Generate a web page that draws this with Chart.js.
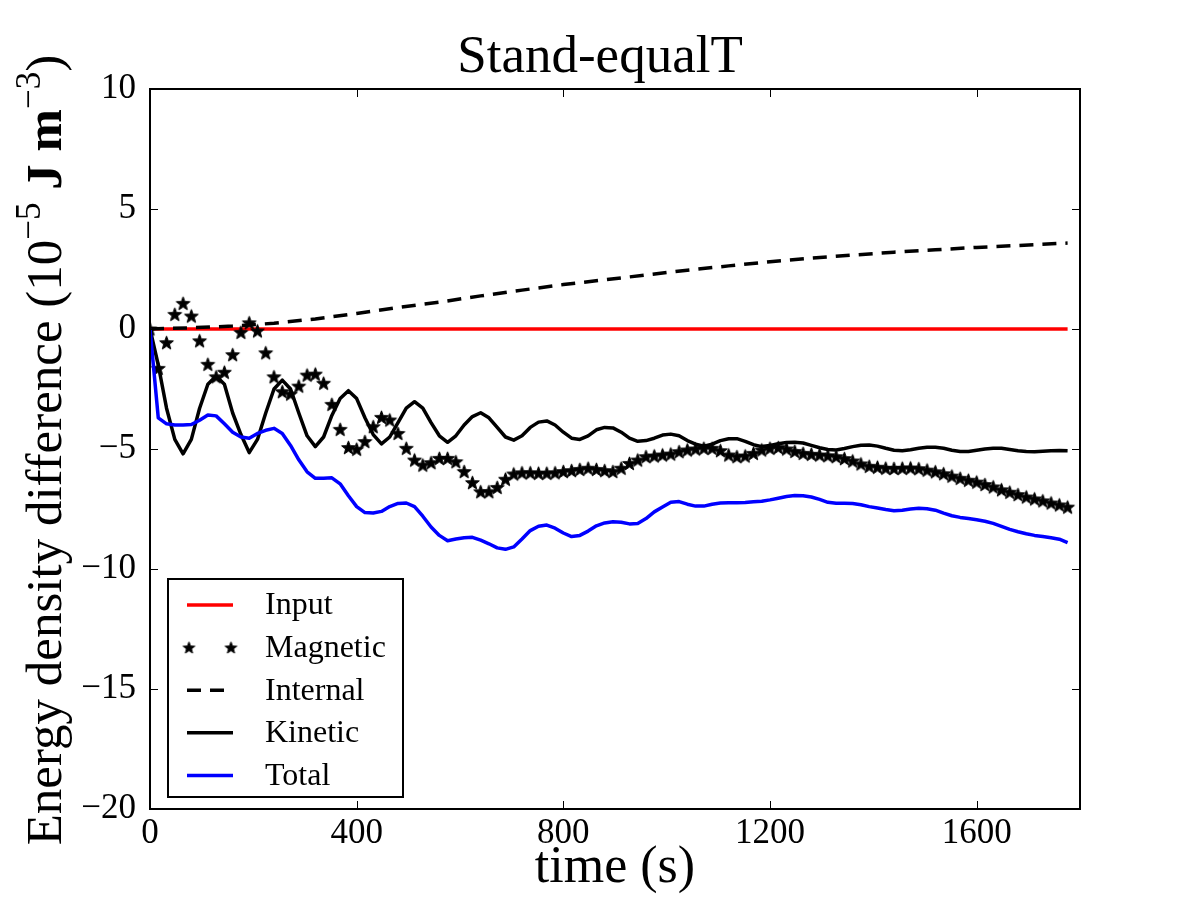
<!DOCTYPE html>
<html>
<head>
<meta charset="utf-8">
<script src="https://cdn.jsdelivr.net/npm/chart.js@4.4.1/dist/chart.umd.min.js"></script>
<style>
html,body{margin:0;padding:0;background:#fff;}
#wrap{width:1200px;height:900px;}
</style>
</head>
<body>
<div id="wrap"><canvas id="c" width="1200" height="900"></canvas></div>
<script>
// ---------------- DATA ----------------
const titleText = 'Stand-equalT';
const xTitleText = 'time (s)';
const yTitleParts = ['Energy density difference (10', '\u22125', ' J m', '\u22123', ')'];
const seriesNames = ['Input', 'Magnetic', 'Internal', 'Kinetic', 'Total'];

const xTicks = [0, 400, 800, 1200, 1600];
const yTicks = [-20, -15, -10, -5, 0, 5, 10];

const time = [0,16,32,48,64,80,96,112,128,144,160,176,192,208,224,240,256,272,288,304,320,336,352,368,384,400,416,432,448,464,480,496,512,528,544,560,576,592,608,624,640,656,672,688,704,720,736,752,768,784,800,816,832,848,864,880,896,912,928,944,960,976,992,1008,1024,1040,1056,1072,1088,1104,1120,1136,1152,1168,1184,1200,1216,1232,1248,1264,1280,1296,1312,1328,1344,1360,1376,1392,1408,1424,1440,1456,1472,1488,1504,1520,1536,1552,1568,1584,1600,1616,1632,1648,1664,1680,1696,1712,1728,1744,1760,1776];

const inputTime = [0, 1776];
const inputValues = [0, 0];

const magnetic = [0, -1.64, -0.57, 0.61, 1.07, 0.54, -0.49, -1.47, -1.99, -1.8,
 -1.07, -0.14, 0.26, -0.08, -0.99, -1.99, -2.61, -2.71, -2.38, -1.92,
 -1.88, -2.26, -3.14, -4.18, -4.94, -5.01, -4.69, -4.07, -3.68, -3.79,
 -4.35, -4.97, -5.46, -5.67, -5.57, -5.39, -5.39, -5.53, -5.94, -6.4,
 -6.78, -6.78, -6.6, -6.26, -6.04, -5.99, -5.99, -6.01, -6.01, -5.99,
 -5.94, -5.9, -5.85, -5.8, -5.85, -5.9, -5.94, -5.8, -5.6, -5.46,
 -5.32, -5.29, -5.25, -5.21, -5.11, -5.04, -5.0, -4.97, -4.97, -5.07,
 -5.25, -5.32, -5.29, -5.18, -5.04, -4.97, -4.94, -5.0, -5.1, -5.18,
 -5.22, -5.25, -5.28, -5.32, -5.4, -5.5, -5.62, -5.72, -5.76, -5.8,
 -5.81, -5.8, -5.79, -5.82, -5.88, -5.95, -6.03, -6.13, -6.22, -6.3,
 -6.38, -6.48, -6.58, -6.7, -6.8, -6.9, -7.0, -7.08, -7.16, -7.25,
 -7.33, -7.42];

const internalTime = [0, 80, 160, 240, 320, 400, 480, 560, 640, 720, 800, 880, 960, 1040, 1120, 1200, 1280, 1360, 1440, 1520, 1600, 1680, 1776];
const internal = [0, 0.05, 0.12, 0.24, 0.42, 0.65, 0.9, 1.12, 1.38, 1.62, 1.85, 2.05, 2.25, 2.45, 2.63, 2.8, 2.95, 3.08, 3.2, 3.3, 3.4, 3.48, 3.58];

const kinetic = [0, -1.5, -3.3, -4.6, -5.2, -4.6, -3.3, -2.3, -1.96, -2.3,
 -3.5, -4.4, -5.15, -4.6, -3.5, -2.5, -2.13, -2.5, -3.5, -4.45,
 -4.9, -4.5, -3.6, -2.9, -2.57, -2.9, -3.7, -4.4, -4.79, -4.5,
 -3.9, -3.3, -3.03, -3.3, -3.9, -4.45, -4.72, -4.45, -4.0, -3.65,
 -3.49, -3.7, -4.1, -4.5, -4.63, -4.45, -4.1, -3.88, -3.83, -4.0,
 -4.3, -4.55, -4.6, -4.45, -4.2, -4.1, -4.12, -4.3, -4.55, -4.68,
 -4.65, -4.55, -4.42, -4.38, -4.45, -4.65, -4.8, -4.88, -4.8, -4.65,
 -4.57, -4.57, -4.68, -4.82, -4.9, -4.85, -4.78, -4.73, -4.72, -4.75,
 -4.85, -4.95, -5.02, -5.04, -4.98, -4.9, -4.84, -4.83, -4.88, -4.97,
 -5.05, -5.07, -5.03, -4.97, -4.93, -4.93, -4.97, -5.05, -5.1, -5.1,
 -5.05, -5.0, -4.97, -4.97, -5.02, -5.07, -5.1, -5.11, -5.09, -5.07,
 -5.06, -5.07];

const total = [0, -3.7, -3.95, -4.0, -4.0, -3.98, -3.8, -3.58, -3.62, -3.95,
 -4.3, -4.5, -4.55, -4.35, -4.22, -4.14, -4.35, -4.85, -5.45, -5.95,
 -6.22, -6.22, -6.2, -6.45, -6.95, -7.4, -7.65, -7.67, -7.6, -7.4,
 -7.27, -7.25, -7.4, -7.8, -8.25, -8.6, -8.82, -8.75, -8.7, -8.68,
 -8.8, -8.95, -9.12, -9.18, -9.08, -8.75, -8.4, -8.22, -8.17, -8.3,
 -8.5, -8.65, -8.6, -8.42, -8.2, -8.08, -8.03, -8.05, -8.12, -8.1,
 -7.9, -7.62, -7.42, -7.22, -7.19, -7.3, -7.38, -7.38, -7.3, -7.25,
 -7.24, -7.24, -7.23, -7.2, -7.18, -7.12, -7.05, -6.98, -6.94, -6.95,
 -7.0, -7.1, -7.22, -7.26, -7.26, -7.27, -7.32, -7.4, -7.46, -7.52,
 -7.57, -7.55, -7.5, -7.47, -7.49, -7.55, -7.67, -7.78, -7.85, -7.9,
 -7.95, -8.01, -8.1, -8.22, -8.35, -8.45, -8.53, -8.6, -8.65, -8.7,
 -8.76, -8.9];

// ---------------- STYLE / RENDER ----------------
const FONT = '"Liberation Serif", "Times New Roman", serif';
Chart.defaults.color = '#000';

function makeStar(r) {
  const s = Math.ceil(r * 2 + 4);
  const c = document.createElement('canvas');
  c.width = s; c.height = s;
  const g = c.getContext('2d');
  g.translate(s / 2, s / 2 + r * 0.08);
  g.beginPath();
  for (let i = 0; i < 10; i++) {
    const rr = i % 2 === 0 ? r : r * 0.42;
    const a = -Math.PI / 2 + i * Math.PI / 5;
    g.lineTo(rr * Math.cos(a), rr * Math.sin(a));
  }
  g.closePath();
  g.fillStyle = '#000';
  g.fill();
  g.lineWidth = 1;
  g.strokeStyle = '#000';
  g.lineJoin = 'miter';
  g.stroke();
  return c;
}
const starImg = makeStar(7.2);
const legendStar = makeStar(6.2);

const fmt = v => (v < 0 ? '\u2212' + Math.abs(v) : String(v));
const toXY = (xs, ys) => xs.map((x, i) => ({ x: x, y: ys[i] }));

const framePlugin = {
  id: 'frame',
  afterDatasetsDraw(chart) {
    const { ctx, chartArea: a, scales } = chart;
    ctx.save();
    ctx.strokeStyle = '#000';
    ctx.lineWidth = 1;
    const tl = 8;
    xTicks.forEach(v => {
      const px = Math.round(scales.x.getPixelForValue(v)) + 0.5;
      ctx.beginPath();
      ctx.moveTo(px, a.bottom); ctx.lineTo(px, a.bottom - tl);
      ctx.moveTo(px, a.top); ctx.lineTo(px, a.top + tl);
      ctx.stroke();
    });
    yTicks.forEach(v => {
      const py = Math.round(scales.y.getPixelForValue(v)) + 0.5;
      ctx.beginPath();
      ctx.moveTo(a.left, py); ctx.lineTo(a.left + tl, py);
      ctx.moveTo(a.right, py); ctx.lineTo(a.right - tl, py);
      ctx.stroke();
    });
    ctx.lineWidth = 2;
    ctx.strokeRect(a.left, a.top, a.right - a.left, a.bottom - a.top);
    ctx.restore();
  }
};

const textPlugin = {
  id: 'texts',
  afterDraw(chart) {
    const ctx = chart.ctx;
    const a = chart.chartArea;
    ctx.save();
    ctx.fillStyle = '#000';
    ctx.textBaseline = 'alphabetic';
    ctx.textAlign = 'center';
    ctx.font = '53px ' + FONT;
    ctx.fillText(titleText, 600, 72);
    ctx.font = '52px ' + FONT;
    ctx.fillText(xTitleText, (a.left + a.right) / 2, 882);

    // y axis title with superscripts
    const fonts = ['51px ' + FONT, '35px ' + FONT, 'bold 51px ' + FONT, '35px ' + FONT, '51px ' + FONT];
    const dys = [0, -21, 0, -21, 0];
    let totalW = 0;
    const widths = yTitleParts.map((t, i) => { ctx.font = fonts[i]; const w = ctx.measureText(t).width; totalW += w; return w; });
    ctx.translate(61, 450);
    ctx.rotate(-Math.PI / 2);
    ctx.textAlign = 'left';
    let x = -totalW / 2;
    yTitleParts.forEach((t, i) => {
      ctx.font = fonts[i];
      ctx.fillText(t, x, dys[i]);
      x += widths[i];
    });
    ctx.restore();
  }
};

const legendPlugin = {
  id: 'customLegend',
  afterDraw(chart) {
    const ctx = chart.ctx;
    const bx = 168, by = 579, bw = 235, bh = 218;
    ctx.save();
    ctx.fillStyle = '#fff';
    ctx.fillRect(bx, by, bw, bh);
    ctx.strokeStyle = '#000';
    ctx.lineWidth = 2;
    ctx.strokeRect(bx, by, bw, bh);
    const x0 = 187, x1 = 233, tx = 265;
    ctx.font = '32px ' + FONT;
    ctx.textBaseline = 'middle';
    ctx.textAlign = 'left';
    seriesNames.forEach((name, i) => {
      const ds = chart.data.datasets[i];
      const y = 605 + i * 42.6;
      if (ds.showLine === false) {
        ctx.drawImage(legendStar, x0 + 2 - legendStar.width / 2, y - legendStar.height / 2);
        ctx.drawImage(legendStar, x1 - 2 - legendStar.width / 2, y - legendStar.height / 2);
      } else {
        ctx.beginPath();
        ctx.strokeStyle = ds.borderColor;
        ctx.lineWidth = ds.borderWidth;
        ctx.setLineDash(ds.borderDash || []);
        ctx.moveTo(x0, y); ctx.lineTo(x1, y);
        ctx.stroke();
        ctx.setLineDash([]);
      }
      ctx.fillStyle = '#000';
      ctx.fillText(name, tx, y + 1);
    });
    ctx.restore();
  }
};

new Chart(document.getElementById('c').getContext('2d'), {
  type: 'line',
  data: {
    datasets: [
      { label: seriesNames[0], data: toXY(inputTime, inputValues), borderColor: '#ff0000', borderWidth: 3.5, pointRadius: 0, order: 4 },
      { label: seriesNames[1], data: toXY(time, magnetic), showLine: false, pointStyle: starImg, pointRadius: 7, borderColor: '#000', backgroundColor: '#000', order: 3 },
      { label: seriesNames[2], data: toXY(internalTime, internal), borderColor: '#000', borderWidth: 3.5, borderDash: [14, 9], pointRadius: 0, order: 2 },
      { label: seriesNames[3], data: toXY(time, kinetic), borderColor: '#000', borderWidth: 3.5, pointRadius: 0, borderJoinStyle: 'round', order: 1 },
      { label: seriesNames[4], data: toXY(time, total), borderColor: '#0000ff', borderWidth: 3.5, pointRadius: 0, borderJoinStyle: 'round', order: 0 }
    ]
  },
  options: {
    responsive: false,
    animation: false,
    devicePixelRatio: 1,
    events: [],
    layout: { padding: { top: 89, right: 120, left: 0, bottom: 0 } },
    plugins: { legend: { display: false }, title: { display: false }, tooltip: { enabled: false } },
    scales: {
      x: {
        type: 'linear', min: 0, max: 1800,
        afterBuildTicks: s => { s.ticks = xTicks.map(v => ({ value: v })); },
        ticks: { font: { family: FONT, size: 35 }, color: '#000', padding: 4, maxRotation: 0, autoSkip: false, callback: v => fmt(v) },
        grid: { display: false, drawTicks: false },
        border: { display: false },
        afterFit: s => { s.height = 91; }
      },
      y: {
        type: 'linear', min: -20, max: 10,
        afterBuildTicks: s => { s.ticks = yTicks.map(v => ({ value: v })); },
        ticks: { font: { family: FONT, size: 35 }, color: '#000', padding: 14, autoSkip: false, callback: v => fmt(v) },
        grid: { display: false, drawTicks: false },
        border: { display: false },
        afterFit: s => { s.width = 150; }
      }
    }
  },
  plugins: [framePlugin, textPlugin, legendPlugin]
});
</script>
</body>
</html>
